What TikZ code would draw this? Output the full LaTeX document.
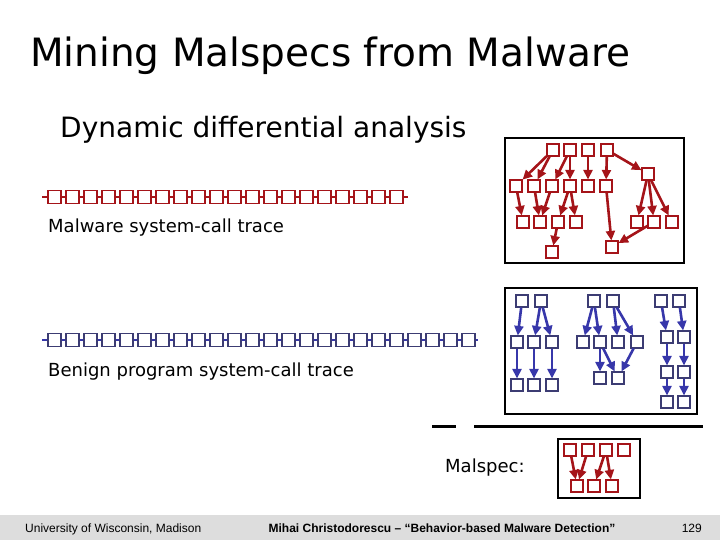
\documentclass[tikz,border=0pt]{standalone}
\usepackage{fontspec}
\setmainfont{DejaVu Sans}
\newfontfamily\footfont{Liberation Sans}
\usetikzlibrary{arrows.meta,positioning}
\definecolor{malred}{RGB}{165,20,25}
\definecolor{benblue}{RGB}{55,55,170}
\definecolor{benbox}{RGB}{60,60,115}
\definecolor{footgray}{RGB}{221,221,221}
\tikzset{
    sq/.style={draw,fill=white,minimum size=12pt,inner sep=0pt,line width=1.1pt},
    redsq/.style={sq,draw=malred},
    bluesq/.style={sq,draw=benbox},
    tracesq/.style={sq,minimum size=13pt},
    redarr/.style={malred,line width=2.6pt,-{Triangle[length=9.5pt,width=9pt]}},
    bluearr/.style={benblue,line width=2.6pt,-{Triangle[length=9.5pt,width=9pt]}},
    label/.style={anchor=base west,inner sep=0pt}
}

\begin{document}
\begin{tikzpicture}[x=1pt,y=-1pt]
\useasboundingbox (0,0) rectangle (720,540);
\fill[footgray] (0,515) rectangle (720,540);

\node[label,font=\fontsize{39}{44}\selectfont] (title) at (30,67) {Mining Malspecs from Malware};
\node[label,font=\fontsize{28}{32}\selectfont] (sub) at (60,138) {Dynamic differential analysis};
\node[label,font=\fontsize{18}{22}\selectfont] (mtxt) at (48,233) {Malware system-call trace};
\node[label,font=\fontsize{18}{22}\selectfont] (btxt) at (48,376) {Benign program system-call trace};
\node[label,font=\fontsize{18}{22}\selectfont] (spec) at (445,472) {Malspec:};

% traces
\coordinate (mL) at (42,197);
\coordinate (mR) at (408,197);
\foreach \i in {0,...,19}
    \node[tracesq,draw=malred] (m\i) at ({54.5+18*\i},197) {};
\draw[malred,line width=2.5pt] (mL) -- (m0) (m19) -- (mR);
\foreach \i [evaluate=\i as \j using int(\i+1)] in {0,...,18}
    \draw[malred,line width=2.5pt] (m\i) -- (m\j);

\coordinate (bL) at (42,340);
\coordinate (bR) at (478,340);
\foreach \i in {0,...,23}
    \node[tracesq,draw=benbox] (b\i) at ({54.5+18*\i},340) {};
\draw[benblue,line width=2.5pt] (bL) -- (b0) (b23) -- (bR);
\foreach \i [evaluate=\i as \j using int(\i+1)] in {0,...,22}
    \draw[benblue,line width=2.5pt] (b\i) -- (b\j);

% malware graph
\draw[line width=1.5pt] (505,138) rectangle (684,263);
\foreach \n/\x/\y in {ma1/553/150,ma2/570/150,ma3/588/150,ma4/607/150,
    mb1/516/186,mb2/534/186,mb3/552/186,mb4/570/186,mb5/588/186,mb6/606/186,mbx/648/174,
    mc1/523/222,mc2/540/222,mc3/558/222,mc4/576/222,mcx1/637/222,mcx2/654/222,mcx3/672/222,
    md1/552/252,md2/612/247}
    \node[redsq] (\n) at (\x,\y) {};
\foreach \a/\b in {ma1/mb1,ma1/mb2,ma2/mb3,ma2/mb4,ma3/mb5,ma4/mb6,ma4/mbx,
    mb1/mc1,mb2/mc2,mb3/mc2,mb4/mc3,mb4/mc4,mc3/md1,mb6/md2,
    mbx/mcx1,mbx/mcx2,mbx/mcx3,mcx2/md2}
    \draw[redarr] (\a) -- (\b);

% benign graphs
\draw[line width=1.5pt] (505,288) rectangle (697,414);
\foreach \n/\x/\y in {ba1/522/301,ba2/541/301,bb1/517/342,bb2/534/342,bb3/552/342,
    bc1/517/385,bc2/534/385,bc3/552/385,
    ga1/594/301,ga2/613/301,gb1/583/342,gb2/600/342,gb3/618/342,gb4/637/342,
    gc1/600/378,gc2/618/378,
    ha1/661/301,ha2/679/301,hb1/667/337,hb2/684/337,hc1/667/372,hc2/684/372,
    hd1/667/402,hd2/684/402}
    \node[bluesq] (\n) at (\x,\y) {};
\foreach \a/\b in {ba1/bb1,ba2/bb2,ba2/bb3,bb1/bc1,bb2/bc2,bb3/bc3,
    ga1/gb1,ga1/gb2,ga2/gb3,ga2/gb4,gb2/gc1,gb2/gc2,gb4/gc2,
    ha1/hb1,ha2/hb2,hb1/hc1,hb2/hc2,hc1/hd1,hc2/hd2}
    \draw[bluearr] (\a) -- (\b);

\draw[line width=3pt] (432,426) -- (456,426) (474,426) -- (703,426);

% malspec
\draw[line width=1.5pt] (558,439) rectangle (640,498);
\foreach \n/\x/\y in {sa1/570/450,sa2/588/450,sa3/606/450,sa4/624/450,
    sb1/577/486,sb2/594/486,sb3/612/486}
    \node[redsq] (\n) at (\x,\y) {};
\foreach \a/\b in {sa1/sb1,sa2/sb1,sa3/sb2,sa3/sb3}
    \draw[redarr] (\a) -- (\b);

% footer
\node[label,font=\footfont\fontsize{12}{14}\selectfont] (univ) at (25,532) {University of Wisconsin, Madison};
\node[anchor=base,inner sep=0pt,font=\footfont\bfseries\fontsize{12}{14}\selectfont] (talk) at (442,532) {Mihai Christodorescu – “Behavior-based Malware Detection”};
\node[anchor=base east,inner sep=0pt,font=\footfont\fontsize{12}{14}\selectfont] (page) at (702,532) {129};
\end{tikzpicture}
\end{document}
